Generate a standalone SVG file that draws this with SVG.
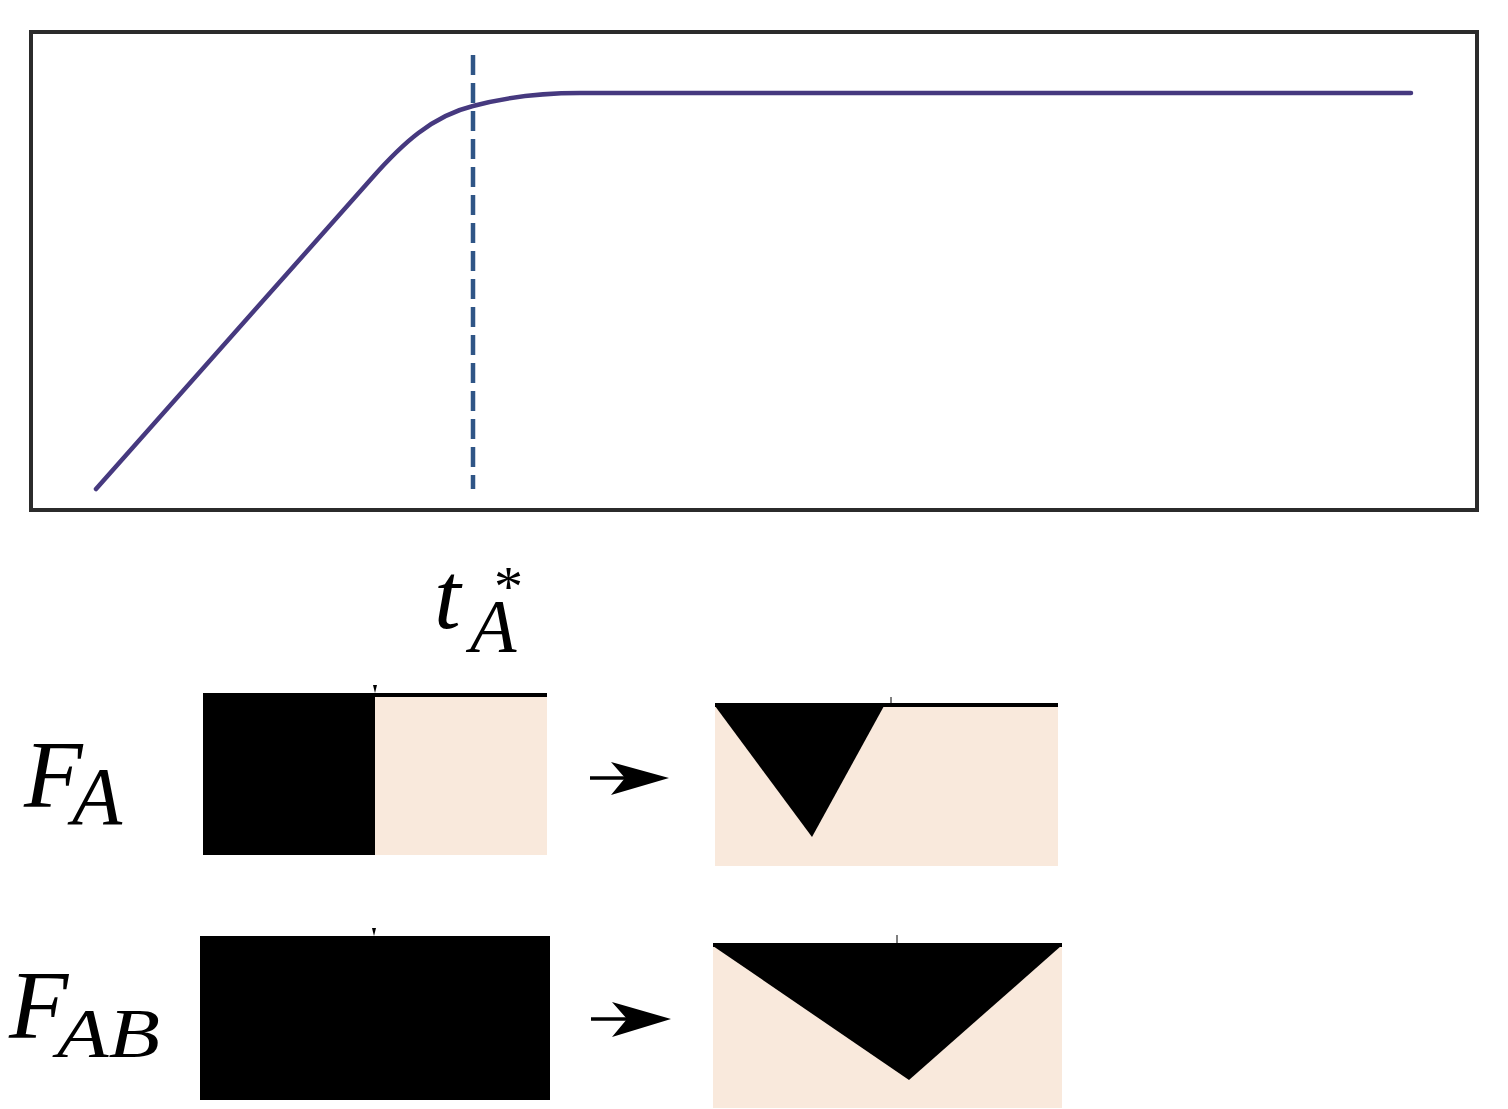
<svg xmlns="http://www.w3.org/2000/svg" width="1508" height="1109" viewBox="0 0 1508 1109">
<style>
.lbl{font-family:"Liberation Serif","Times New Roman",serif;font-style:italic;fill:#000}
.up{font-style:normal}
.beige{fill:#f9e9dc}
.blk{fill:#000}
.shaft{stroke:#000;stroke-width:3.5;fill:none}
</style>
<rect width="1508" height="1109" fill="#fff"/>
<g id="plot">
<rect x="31" y="32" width="1446" height="478" fill="none" stroke="#2b2b2b" stroke-width="4"/>
<line x1="473" y1="55" x2="473" y2="489" stroke="#2f5586" stroke-width="4.5" stroke-dasharray="20,8"/>
<path d="M96,489 L372,178 C402,144 432,116 473,106 C510,96 545,93 580,93 L1411,93" fill="none" stroke="#46397f" stroke-width="4.5" stroke-linecap="round"/>
</g>
<g id="label-tA">
<text class="lbl" x="434" y="628" font-size="96">t<tspan x="470" y="652" font-size="76">A</tspan><tspan class="up" x="494" y="606" font-size="58">*</tspan></text>
</g>
<g id="label-FA">
<text class="lbl" x="24" y="807" font-size="96">F<tspan x="72" y="824" font-size="82">A</tspan></text>
</g>
<g id="label-FAB">
<text class="lbl" x="9" y="1038" font-size="97">F<tspan x="57" y="1057" font-size="70" textLength="103" lengthAdjust="spacingAndGlyphs">AB</tspan></text>
</g>
<g id="FA-before">
<rect class="beige" x="375" y="693" width="172" height="162"/>
<rect class="blk" x="203" y="693" width="172" height="162"/>
<rect class="blk" x="375" y="693" width="172" height="4"/>
<path class="blk" d="M373,685 L377,685 L375,693 Z"/>
</g>
<g id="FA-after">
<rect class="beige" x="715" y="703" width="343" height="163"/>
<rect class="blk" x="715" y="703" width="343" height="4"/>
<path class="blk" d="M715,706 L884,706 L812,837 Z"/>
<line x1="891" y1="697" x2="891" y2="703" stroke="#000" stroke-width="1"/>
</g>
<g id="FAB-before">
<rect class="blk" x="200" y="936" width="350" height="164"/>
<path class="blk" d="M372,928 L376,928 L374,936 Z"/>
</g>
<g id="FAB-after">
<rect class="beige" x="713" y="943" width="349" height="165"/>
<rect class="blk" x="713" y="943" width="349" height="4"/>
<path class="blk" d="M713,946 L1061,946 L909,1080 Z"/>
<line x1="897" y1="935" x2="897" y2="943" stroke="#000" stroke-width="1"/>
</g>
<g id="connectors">
<line class="shaft" x1="590" y1="778" x2="628" y2="778"/>
<path class="blk" d="M669,778 L611,762 L625,778 L611,795 Z"/>
<line class="shaft" x1="591" y1="1019" x2="630" y2="1019"/>
<path class="blk" d="M671,1019 L612,1002 L627,1019 L612,1037 Z"/>
</g>
</svg>
